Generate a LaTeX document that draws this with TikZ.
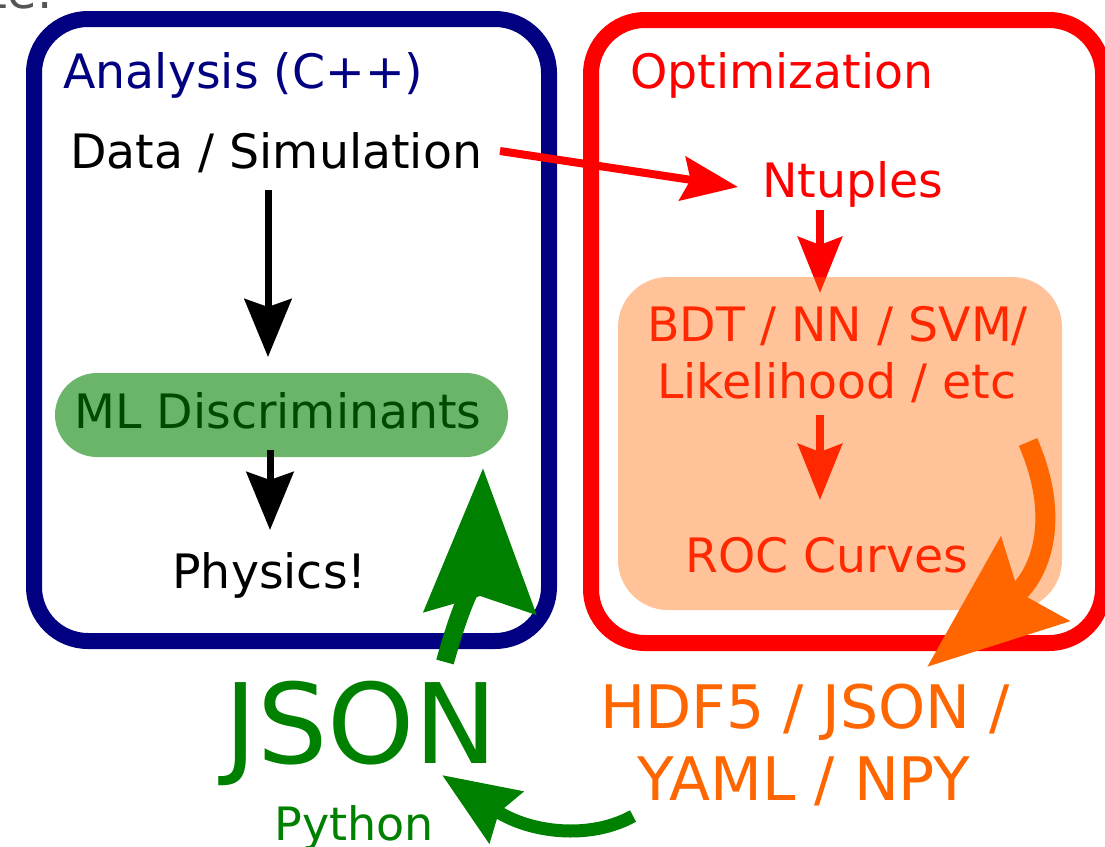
\documentclass[tikz,border=0pt]{standalone}
\usepackage{fontspec}
\setmainfont{DejaVu Sans}
\usetikzlibrary{arrows.meta}
\definecolor{navy}{RGB}{0,0,128}
\definecolor{orng}{RGB}{255,102,0}
\definecolor{grn}{RGB}{0,128,0}
\definecolor{fraggray}{RGB}{85,85,85}

\tikzset{
  lbl/.style={anchor=base west, inner sep=0pt, font=\fontsize{23.7}{28}\selectfont},
  fmtlbl/.style={anchor=base west, inner sep=0pt, text=orng, font=\fontsize{30}{34}\selectfont},
  boxline/.style={line width=8pt, rounded corners=27pt},
  redarr/.style={draw=red, line width=4pt, -{Stealth[length=28pt,width=22pt,inset=4pt]}},
  blkarr/.style={draw=black, line width=3.5pt, -{Stealth[length=29pt,width=23.5pt,inset=4pt]}},
  orgarr/.style={draw=orng, line width=10pt, -{Stealth[length=69pt,width=53pt,inset=10pt]}},
  grnbig/.style={draw=grn, line width=9pt, -{Stealth[length=72pt,width=55pt,inset=8pt]}},
  grnsmall/.style={draw=grn, line width=6.5pt, -{Stealth[length=38pt,width=30pt,inset=4pt]}},
}

\begin{document}
\begin{tikzpicture}[x=0.5pt,y=-0.5pt]
\useasboundingbox (0,0) rectangle (1105,847);
\clip (0,0) rectangle (1105,847);

% fragment of a line of text above the figure
\node[anchor=base east, inner sep=0pt, fraggray, font=\fontsize{24}{28}\selectfont] (frag) at (53,8) {te.};

% the two frames
\draw[navy, boxline] (34,19) rectangle (549,641);
\draw[red, boxline] (591,20) rectangle (1103,643);

% labels
\node[lbl, navy] (ana) at (63,88) {Analysis (C++)};
\node[lbl, red] (opt) at (630,88) {Optimization};
\node[lbl] (data) at (70,168) {Data / Simulation};
\node[lbl, red] (ntup) at (762,197) {Ntuples};
\node[lbl, red] (bdt) at (647,341) {BDT / NN / SVM/};
\node[lbl, red] (lik) at (657,398) {Likelihood / etc};
\node[lbl, red] (roc) at (685,572) {ROC Curves};
\node[lbl] (ml) at (74,428) {ML Discriminants};
\node[lbl] (phys) at (172,588) {Physics!};
\node[lbl, grn, font=\fontsize{55.5}{60}\selectfont] (json) at (224,763) {JSON};
\node[lbl, grn, font=\fontsize{23}{27}\selectfont] (py) at (274,840) {Python};
\node[fmtlbl] (fmt1) at (600,728) {HDF5 / JSON /};
\node[fmtlbl] (fmt2) at (637,800) {YAML / NPY};

% arrow end points
\coordinate (dataout) at (500,151);
\coordinate (ntupin) at (738,187);
\coordinate (ntupout) at (820,210);
\coordinate (bdtin) at (820,293);
\coordinate (datadown) at (268,190);
\coordinate (mlin) at (268,357);
\coordinate (mlout) at (270,450);
\coordinate (physin) at (270,530);
\coordinate (likout) at (820,415);
\coordinate (rocin) at (820,500);

% arrows in the optimization chain
\draw[redarr] (dataout) -- (ntupin);
\draw[redarr] (ntupout) -- (bdtin);
\draw[redarr] (likout) -- (rocin);

% arrows in the analysis chain
\draw[blkarr] (datadown) -- (mlin);

% translucent highlight panels
\fill[grn, opacity=0.58, rounded corners=21pt] (55,373) rectangle (508,457);
\fill[orng, opacity=0.4, rounded corners=25pt] (618,277) rectangle (1062,610);

\draw[blkarr] (mlout) -- (physin);

% export and import arrows
\coordinate (rocout) at (1028,442);
\coordinate (fmtin) at (927,667);
\draw[orgarr] (rocout) .. controls (1062,520) and (1040,575) .. (fmtin);

\coordinate (fmtout) at (633,816);
\coordinate (jsonin) at (442,775);
\draw[grnsmall] (fmtout) .. controls (590,840) and (530,833) .. (jsonin);

\coordinate (jsonout) at (445,662);
\coordinate (mlback) at (483,468);
\draw[grnbig] (jsonout) .. controls (462,600) and (481,560) .. (mlback);
\end{tikzpicture}
\end{document}
